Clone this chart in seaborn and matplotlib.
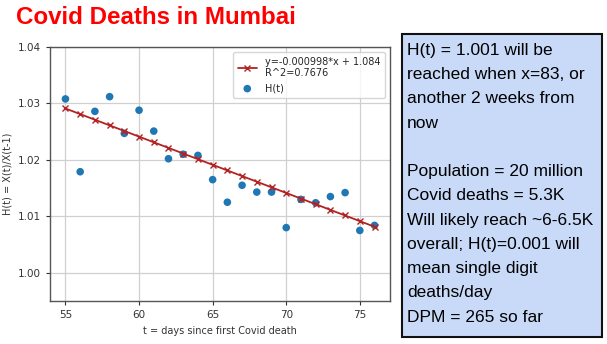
import numpy as np
import pandas as pd
import matplotlib
matplotlib.use("Agg")
import matplotlib.pyplot as plt
import seaborn as sns

# Daily growth factor of cumulative Covid deaths in Mumbai
days = [55, 56, 57, 58, 59, 60, 61, 62, 63, 64, 65,
        66, 67, 68, 69, 70, 71, 72, 73, 74, 75, 76]
h_values = [1.0308, 1.0179, 1.0286, 1.0312, 1.0247, 1.0288, 1.0251, 1.0202,
            1.0210, 1.0208, 1.0165, 1.0125, 1.0155, 1.0143, 1.0143, 1.0080,
            1.0130, 1.0124, 1.0135, 1.0142, 1.0075, 1.0084]

# Linear fit reported in the legend
slope = -0.000998
intercept = 1.084
r_squared = 0.7676

x_ticks = [55, 60, 65, 70, 75]
y_ticks = [1.00, 1.01, 1.02, 1.03, 1.04]

title_text = "Covid Deaths in Mumbai"
note_lines = [
    "H(t) = 1.001 will be",
    "reached when x=83, or",
    "another 2 weeks from",
    "now",
    "",
    "Population = 20 million",
    "Covid deaths = 5.3K",
    "Will likely reach ~6-6.5K",
    "overall; H(t)=0.001 will",
    "mean single digit",
    "deaths/day",
    "DPM = 265 so far",
]

sns.set_style("ticks")
plt.rcParams["font.family"] = ["DejaVu Sans"]

df = pd.DataFrame({"t": days, "H": h_values})
df["fit"] = slope * df["t"] + intercept

fig = plt.figure(figsize=(6.07, 3.44), dpi=100)
fig.patch.set_facecolor("white")
ax = fig.add_axes([50 / 607, 1 - 301 / 344, 340 / 607, 254 / 344])

fit_color = "#b22222"
fit_label = f"y={slope}*x + {intercept}\nR^2={r_squared}"
sns.lineplot(data=df, x="t", y="fit", ax=ax, color=fit_color, marker="x",
             markersize=5, markeredgewidth=1.0, markeredgecolor=fit_color,
             linewidth=1.3, label=fit_label, zorder=3)
sns.scatterplot(data=df, x="t", y="H", ax=ax, color="#1f77b4", s=30,
                edgecolor="none", label="H(t)", zorder=2)

ax.set_xlim(53.95, 77.05)
ax.set_ylim(0.995, 1.04)
ax.set_xticks(x_ticks)
ax.set_yticks(y_ticks)
ax.set_yticklabels([f"{v:.2f}" for v in y_ticks])
ax.grid(True, color="#d0d0d0", linewidth=0.9)
ax.set_axisbelow(True)
ax.tick_params(labelsize=7.5, colors="#333333", length=3, width=0.8)
for sp in ax.spines.values():
    sp.set_color("#555555")
    sp.set_linewidth(1.0)
ax.set_xlabel("t = days since first Covid death", fontsize=7, color="#333333")
ax.set_ylabel("H(t) = X(t)/X(t-1)", fontsize=7, color="#333333")

leg = ax.legend(loc="upper right", fontsize=7, frameon=True,
                handlelength=2.0, borderpad=0.5, labelspacing=0.5)
leg.get_frame().set_edgecolor("#cccccc")

fig.text(16 / 607, 1 - 18 / 344, title_text, color="#ff0000",
         fontsize=17.4, fontweight="bold", family="Liberation Sans",
         ha="left", va="center")

# Note box on the right
box = plt.Rectangle((402 / 607, 1 - 337 / 344), 200 / 607, 303 / 344,
                    transform=fig.transFigure, facecolor="#c9daf8",
                    edgecolor="#111111", linewidth=1.5, zorder=5)
fig.patches.append(box)
fig.text(407 / 607, 1 - 43 / 344, "\n".join(note_lines), family="Liberation Sans",
         fontsize=12.5, color="black", ha="left", va="top", linespacing=1.77,
         zorder=6)

fig.savefig("out.png", dpi=100, facecolor="white")
